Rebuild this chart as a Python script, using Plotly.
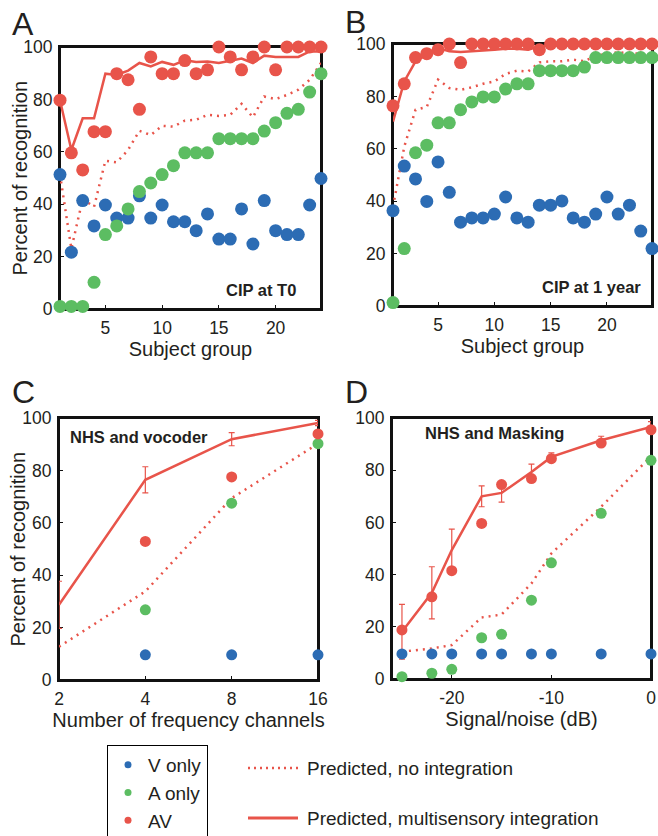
import math
import plotly.graph_objects as go

# ---------------- data ----------------
subjects = list(range(1, 25))

A_v_only = [51.3, 21.7, 41.4, 31.7, 39.7, 34.7, 34.7, 43.2, 34.7, 39.7, 33.3, 33.3,
            29.9, 36.3, 26.7, 26.7, 38.2, 24.8, 41.4, 29.9, 28.4, 28.4, 39.7, 49.8]
A_a_only = [1, 1, 1, 10.2, 28.4, 31.7, 38.2, 44.8, 48.1, 51.3, 54.7, 59.6,
            59.6, 59.6, 65, 65, 65, 65, 67.9, 71.1, 74.7, 76.2, 82.8, 89.8]
A_av = [79.7, 59.6, 53.1, 67.7, 67.7, 89.8, 87.5, 76.2, 96.2, 89.8, 89.8, 94.8,
        89.8, 91.3, 100, 96.2, 91.3, 96.2, 100, 91.3, 100, 100, 100, 100]
A_pred_multi = [79.7, 60.7, 72.8, 72.8, 89.8, 89.3, 91.0, 93.9, 92.6, 94.3, 93.2, 94.9,
                94.3, 94.5, 93.9, 94.8, 95.6, 93.9, 96.7, 96.2, 96.2, 96.2, 98.3, 98.3]
A_pred_none = [51.3, 23.0, 42.0, 39.0, 56.6, 56.0, 60.7, 68.0, 66.4, 69.9, 69.6, 71.9,
               72.2, 74.1, 73.7, 74.1, 78.3, 73.2, 81.1, 80.1, 81.7, 83.7, 87.5, 93.9]

B_v_only = [36.4, 53.4, 48.5, 39.9, 55.0, 43.4, 32.0, 33.6, 33.6, 35.1, 41.6, 33.6,
            32.0, 38.5, 38.5, 40.1, 33.6, 32.0, 35.1, 41.6, 35.1, 38.5, 28.6, 21.9]
B_a_only = [1.3, 21.9, 58.5, 61.4, 69.9, 69.9, 74.9, 77.9, 79.8, 79.8, 82.8, 84.8,
            84.8, 89.8, 89.8, 89.8, 89.8, 91.2, 94.8, 94.8, 94.8, 94.8, 94.8, 94.8]
B_av = [76.4, 84.8, 94.8, 96.3, 97.8, 100, 92.9, 100, 100, 100, 100, 100,
        100, 97.8, 100, 100, 100, 100, 100, 100, 100, 100, 100, 100]
B_pred_multi = [70.4, 85.7, 93.4, 95.9, 98.5, 97.2, 96.9, 97.2, 97.4, 97.8, 98.2, 98.2,
                97.8, 99.1, 99.4, 99.4, 99.4, 99.4, 99.4, 99.4, 99.4, 99.4, 99.4, 99.4]
B_pred_none = [37.9, 60.8, 74.9, 76.0, 86.4, 83.2, 82.5, 83.5, 84.8, 85.7, 88.6, 89.8,
               89.5, 93.0, 93.4, 93.4, 94.0, 93.4, 95.5, 96.3, 96.8, 96.6, 96.3, 95.9]

channels = [2, 4, 8, 16]
C_v_only = [9.6, 9.6, 9.6, 9.6]
C_a_only = [1.9, 26.8, 67.5, 90.2]
C_av = [16.6, 52.9, 77.5, 93.9]
C_pred_multi = [28.7, 76.4, 91.9, 98.1]
C_pred_multi_err = [9.0, 5.0, 2.5, 1.0]
C_pred_none = [12.7, 33.8, 69.4, 90.2]

snr = [-25, -22, -20, -17, -15, -12, -10, -5, 0]
D_v_only = [9.6, 9.6, 9.6, 9.6, 9.6, 9.6, 9.6, 9.6, 9.6]
D_a_only = [0.9, 2.2, 3.7, 15.8, 17.1, 30.2, 44.5, 63.5, 83.8]
D_av = [18.8, 31.5, 41.5, 59.6, 74.5, 76.8, 84.4, 90.4, 95.5]
D_pred_multi = [18.1, 33.0, 49.4, 70.0, 71.3, 79.3, 85.1, 91.5, 96.6]
D_pred_multi_err = [10.5, 10.0, 8.0, 4.0, 3.5, 3.0, 1.5, 1.5, 2.0]
D_pred_none = [10.5, 11.7, 13.0, 23.6, 24.7, 36.6, 48.1, 66.0, 85.3]

y_ticks = [0, 20, 40, 60, 80, 100]
subject_ticks = [5, 10, 15, 20]
snr_ticks = [-20, -10, 0]

# ---------------- style ----------------
BLUE = "#2c6cb4"
GREEN = "#5cbd62"
RED = "#e8544a"
TXT = "#231f20"
FRAME = "#111111"
FONT = "Liberation Sans, Arial, sans-serif"
W, H = 658, 836
TL = 4  # inside tick length, px


def px_dom_x(a, b):
    return [a / W, b / W]


def px_dom_y(top, bottom):
    return [1 - bottom / H, 1 - top / H]


panels = {
    1: dict(xd=px_dom_x(60, 321), yd=px_dom_y(47, 309), xr=[1, 24], log=False, xt=subject_ticks),
    2: dict(xd=px_dom_x(393, 652), yd=px_dom_y(44, 306), xr=[1, 24], log=False, xt=subject_ticks),
    3: dict(xd=px_dom_x(59, 318), yd=px_dom_y(418, 680), xr=[math.log10(2), math.log10(16)],
            log=True, xt=channels),
    4: dict(xd=px_dom_x(392, 651), yd=px_dom_y(418, 679), xr=[-26, 0], log=False, xt=snr_ticks),
}

fig = go.Figure()


def ax_names(ax):
    return ("x" if ax == 1 else f"x{ax}"), ("y" if ax == 1 else f"y{ax}")


def add_panel(ax, x, v, a, av, multi, none, msize, err=None):
    xa, ya = ax_names(ax)
    fig.add_trace(go.Scatter(x=x, y=none, mode="lines", xaxis=xa, yaxis=ya,
                             line=dict(color=RED, width=2.5, dash="2px,5px"),
                             showlegend=False, cliponaxis=False, hoverinfo="skip"))
    ey = None
    if err is not None:
        ey = dict(type="data", array=err, visible=True, color=RED, thickness=1.2, width=3)
    fig.add_trace(go.Scatter(x=x, y=multi, mode="lines", xaxis=xa, yaxis=ya,
                             line=dict(color=RED, width=2.5), error_y=ey,
                             showlegend=False, cliponaxis=False, hoverinfo="skip"))
    for vals, col in ((v, BLUE), (a, GREEN), (av, RED)):
        fig.add_trace(go.Scatter(x=x, y=vals, mode="markers", xaxis=xa, yaxis=ya,
                                 marker=dict(color=col, size=msize, line=dict(width=0)),
                                 showlegend=False, cliponaxis=False))


add_panel(1, subjects, A_v_only, A_a_only, A_av, A_pred_multi, A_pred_none, 13)
add_panel(2, subjects, B_v_only, B_a_only, B_av, B_pred_multi, B_pred_none, 13)
add_panel(3, channels, C_v_only, C_a_only, C_av, C_pred_multi, C_pred_none, 11, C_pred_multi_err)
add_panel(4, snr, D_v_only, D_a_only, D_av, D_pred_multi, D_pred_none, 11, D_pred_multi_err)

# legend-only entries (marker key)
for name, col in (("V only", BLUE), ("A only", GREEN), ("AV", RED)):
    fig.add_trace(go.Scatter(x=[None], y=[None], mode="markers", name=name,
                             marker=dict(color=col, size=7)))

axis_common = dict(showline=True, linecolor=FRAME, linewidth=2, mirror=True,
                   ticks="inside", ticklen=TL, tickwidth=1, tickcolor=FRAME,
                   showgrid=False, zeroline=False, automargin=False, layer="below traces",
                   tickfont=dict(size=17.5, color=TXT, family=FONT), ticklabelstandoff=2)
tfont = dict(size=20, color=TXT, family=FONT)

fig.update_layout(
    xaxis=dict(axis_common, domain=panels[1]["xd"], anchor="y", range=panels[1]["xr"],
               tickvals=subject_ticks, title=dict(text="Subject group", standoff=4, font=tfont)),
    yaxis=dict(axis_common, domain=panels[1]["yd"], anchor="x", range=[0, 100],
               tickvals=y_ticks),
    xaxis2=dict(axis_common, domain=panels[2]["xd"], anchor="y2", range=panels[2]["xr"],
                tickvals=subject_ticks, title=dict(text="Subject group", standoff=4, font=tfont)),
    yaxis2=dict(axis_common, domain=panels[2]["yd"], anchor="x2", range=[0, 100],
                tickvals=y_ticks),
    xaxis3=dict(axis_common, domain=panels[3]["xd"], anchor="y3", type="log",
                range=panels[3]["xr"], tickvals=channels, ticktext=[str(c) for c in channels],
                title=dict(text="Number of frequency channels", standoff=4, font=tfont)),
    yaxis3=dict(axis_common, domain=panels[3]["yd"], anchor="x3", range=[0, 100],
                tickvals=y_ticks),
    xaxis4=dict(axis_common, domain=panels[4]["xd"], anchor="y4", range=panels[4]["xr"],
                tickvals=snr_ticks, ticktext=[str(t) for t in snr_ticks],
                title=dict(text="Signal/noise (dB)", standoff=4, font=tfont)),
    yaxis4=dict(axis_common, domain=panels[4]["yd"], anchor="x4", range=[0, 100],
                tickvals=y_ticks),
    width=W, height=H, margin=dict(l=0, r=0, t=0, b=0, autoexpand=False),
    paper_bgcolor="white", plot_bgcolor="rgba(0,0,0,0)",
    font=dict(family=FONT, color=TXT),
    legend=dict(x=107 / W, y=1 - 745 / H, xanchor="left", yanchor="top",
                bordercolor="black", borderwidth=1, bgcolor="white",
                font=dict(size=19, color=TXT, family=FONT), itemwidth=30),
)

# panel frames as paper-space rectangles below the data (backup for the axis lines)
for ax, p in panels.items():
    fig.add_shape(type="rect", xref="paper", yref="paper",
                  x0=p["xd"][0], x1=p["xd"][1], y0=p["yd"][0], y1=p["yd"][1],
                  line=dict(color=FRAME, width=2), fillcolor="rgba(0,0,0,0)", layer="below")

# y-axis titles (rotated text beside panels A and C)
for ax, xc in ((1, 19.5), (3, 17.5)):
    yd = panels[ax]["yd"]
    fig.add_annotation(text="Percent of recognition", xref="paper", yref="paper",
                       x=xc / W, y=(yd[0] + yd[1]) / 2, textangle=-90, showarrow=False,
                       xanchor="center", yanchor="middle", font=tfont)

# second key (line styles)
fig.add_shape(type="line", xref="paper", yref="paper", x0=248 / W, x1=298 / W,
              y0=1 - 768 / H, y1=1 - 768 / H, line=dict(color=RED, width=2.5, dash="2px,4px"))
fig.add_shape(type="line", xref="paper", yref="paper", x0=248 / W, x1=298 / W,
              y0=1 - 818 / H, y1=1 - 818 / H, line=dict(color=RED, width=3))
for txt, yy in (("Predicted, no integration", 768), ("Predicted, multisensory integration", 818)):
    fig.add_annotation(text=txt, xref="paper", yref="paper", x=305 / W, y=1 - yy / H,
                       xanchor="left", yanchor="middle", showarrow=False,
                       font=dict(size=19, color=TXT, family=FONT))

annots = [
    dict(text="A", x=10 / W, y=1 - 4 / H), dict(text="B", x=343 / W, y=1 - 2 / H),
    dict(text="C", x=10 / W, y=1 - 372 / H), dict(text="D", x=343 / W, y=1 - 372 / H),
]
for a in annots:
    fig.add_annotation(xref="paper", yref="paper", xanchor="left", yanchor="top",
                       showarrow=False, font=dict(size=32, color=TXT, family=FONT), **a)

labels = [
    ("CIP at T0", "x domain", "y domain", 0.912, 0.073, "right"),
    ("CIP at 1 year", "x2 domain", "y2 domain", 0.965, 0.072, "right"),
    ("NHS and vocoder", "x3 domain", "y3 domain", 0.033, 0.927, "left"),
    ("NHS and Masking", "x4 domain", "y4 domain", 0.118, 0.943, "left"),
]
for t, xr, yr, x, y, xa in labels:
    fig.add_annotation(text="<b>" + t + "</b>", xref=xr, yref=yr, x=x, y=y, xanchor=xa,
                       yanchor="middle", showarrow=False,
                       font=dict(size=16.5, color=TXT, family=FONT))

fig.write_html("out.html", config={"displayModeBar": False, "staticPlot": True},
               post_script="document.body.style.margin='0px';")
